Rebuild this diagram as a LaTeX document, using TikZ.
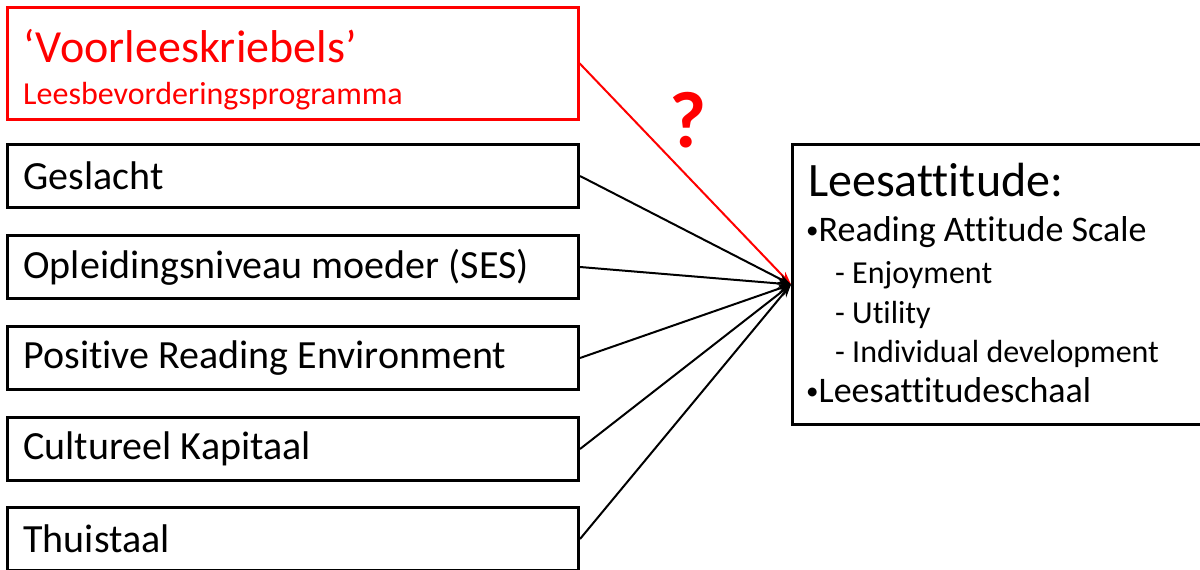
\documentclass[tikz,border=0pt]{standalone}
\usepackage{fontspec}
\setmainfont{Carlito}[Ligatures=NoCommon]
\usepackage{xcolor}
\usepackage{tikz}
\usetikzlibrary{arrows.meta,positioning}

\newcommand{\smallbullet}{\raisebox{2.5pt}{\fontsize{25}{25}\selectfont•}}

\begin{document}
\begin{tikzpicture}[x=1pt, y=-1pt,
        factor/.style={draw, line width=3pt, anchor=north west, minimum height=63pt,
                       text width=539pt, inner xsep=16pt, align=flush left,
                       font=\fontsize{40}{48}\selectfont},
        program/.style={factor, draw=red, text=red, line width=2.5pt, minimum height=112pt},
        result/.style={draw, line width=3pt, anchor=north west, minimum width=430pt, minimum height=280pt},
        item/.style={anchor=base west, inner sep=0pt},
        link/.style={-{Stealth[length=13pt,width=9pt]}, line width=2pt},
    ]
        \useasboundingbox (0,0) rectangle (1200,570);

        % left column: programme and background factors
        \node[program] (prog) at (6, 6)   {\rule{0pt}{46pt}\fontsize{46}{44}\selectfont ‘Voorleeskriebels’\\[-6pt]
                                           \fontsize{32}{40}\selectfont Leesbevorderingsprogramma};
        \node[factor]  (sex)  at (6, 143) {Geslacht};
        \node[factor]  (ses)  at (6, 234) {Opleidingsniveau moeder (SES)};
        \node[factor]  (env)  at (6, 325) {Positive Reading Environment};
        \node[factor]  (cap)  at (6, 416) {Cultureel Kapitaal};
        \node[factor]  (lang) at (6, 506) {Thuistaal};

        % right: outcome
        \node[result] (att) at (791, 143) {};
        \node[item, font=\fontsize{48}{48}\selectfont] (att-title) at (808, 196) {Leesattitude:};
        \node[item, font=\fontsize{36}{36}\selectfont] (att-ras)   at (806, 241) {\smallbullet Reading Attitude Scale};
        \node[item, font=\fontsize{32}{32}\selectfont] (att-enj)   at (835, 283) {- Enjoyment};
        \node[item, font=\fontsize{32}{32}\selectfont] (att-uti)   at (835, 323) {- Utility};
        \node[item, font=\fontsize{32}{32}\selectfont] (att-ind)   at (835, 362) {- Individual development};
        \node[item, font=\fontsize{36}{36}\selectfont] (att-las)   at (806, 402) {\smallbullet Leesattitudeschaal};

        \node[text=red, font=\fontsize{80}{80}\bfseries\selectfont] (q) at (688, 120) {?};

        \draw[link, red] (prog.east) -- (att.west);
        \draw[link] (sex.east)  -- (att.west);
        \draw[link] (ses.east)  -- (att.west);
        \draw[link] (env.east)  -- (att.west);
        \draw[link] (cap.east)  -- (att.west);
        \draw[link] (lang.east) -- (att.west);
    \end{tikzpicture}
\end{document}
